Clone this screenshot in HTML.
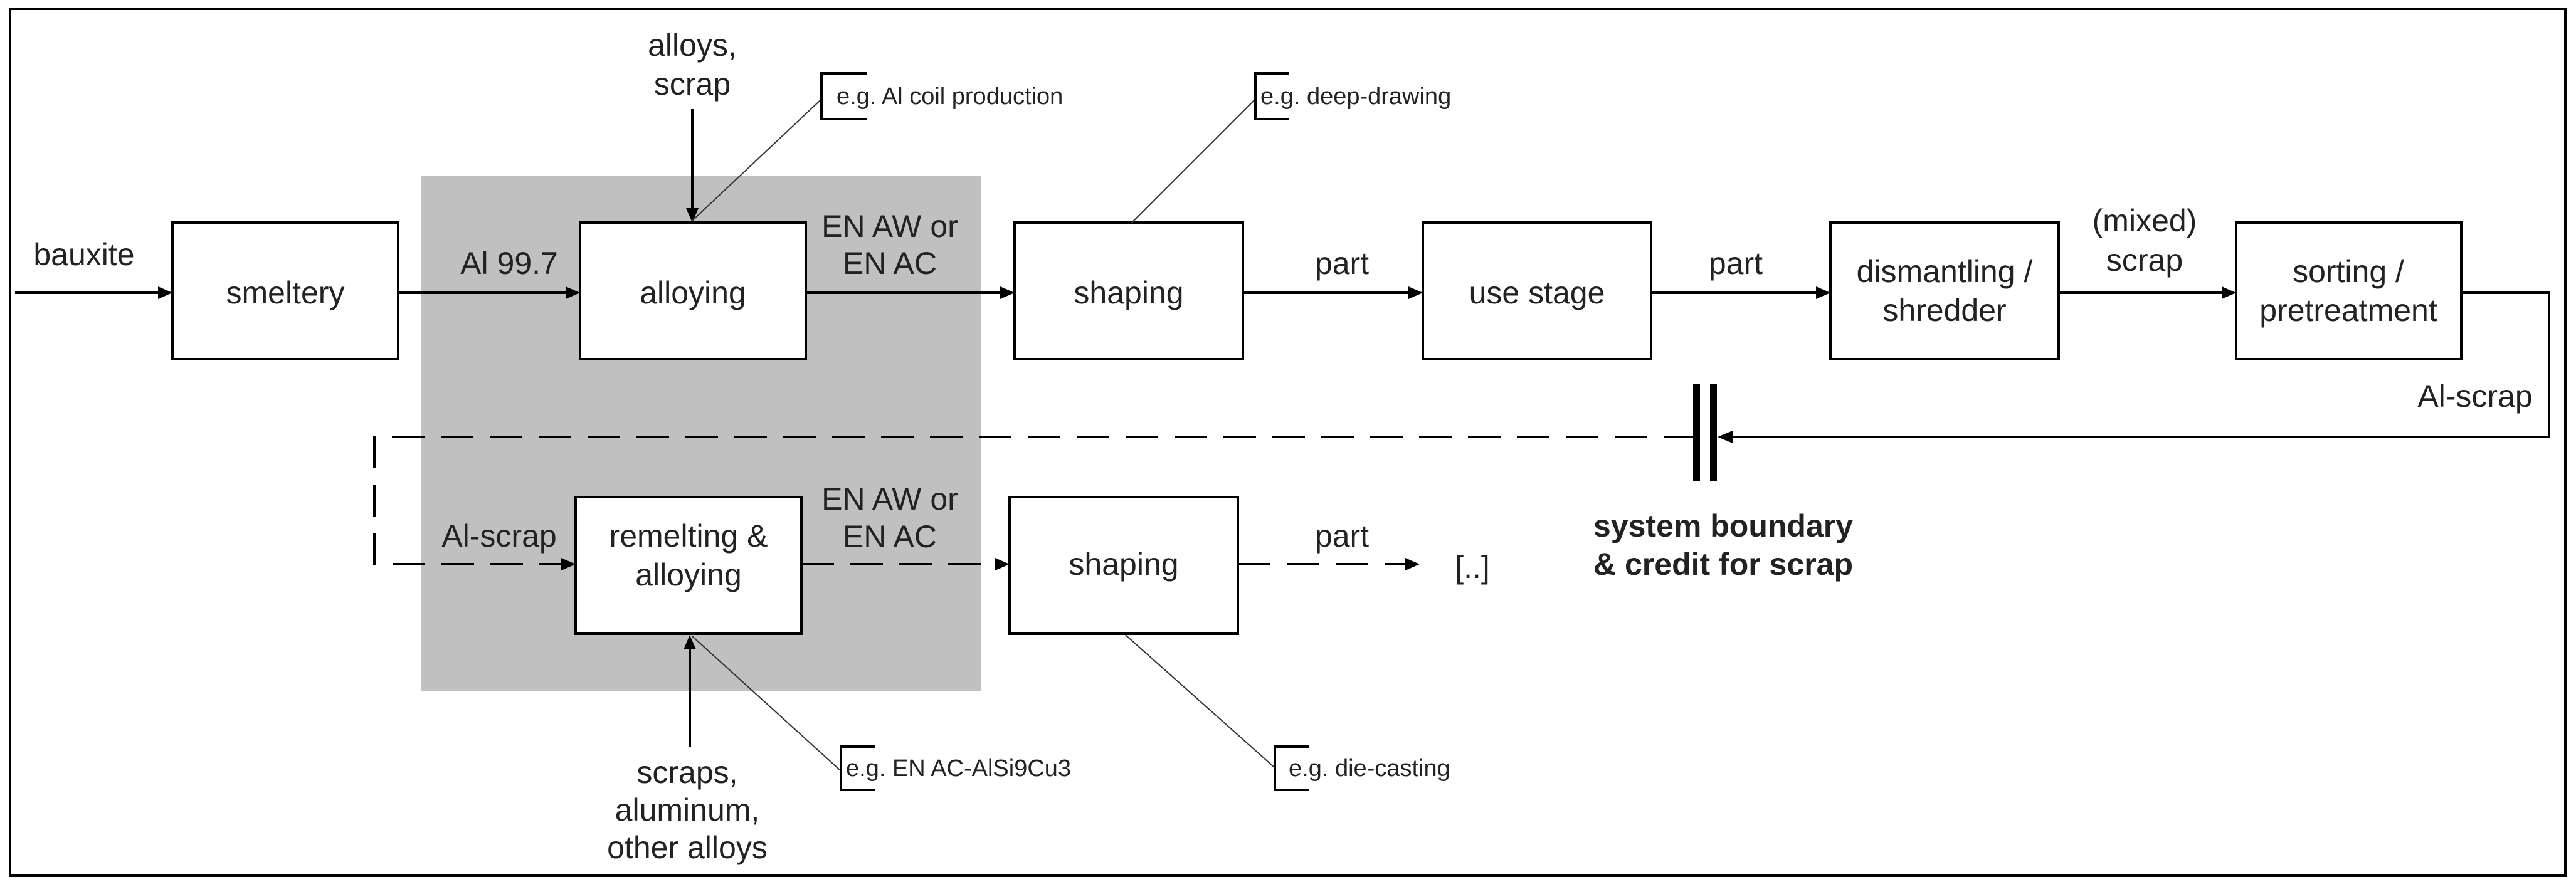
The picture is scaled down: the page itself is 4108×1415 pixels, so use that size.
<!DOCTYPE html>
<html><head><meta charset="utf-8"><style>
html,body{margin:0;padding:0;background:#fff}
svg{display:block}
text{font-family:"Liberation Sans",Arial,sans-serif;fill:#222}
</style></head><body>
<svg width="4108" height="1415" viewBox="0 0 4108 1415" xmlns="http://www.w3.org/2000/svg">
<defs>
<marker id="a" viewBox="0 0 10 10" refX="10" refY="5" markerWidth="6" markerHeight="5" markerUnits="userSpaceOnUse" orient="auto" style="overflow:visible">
</marker>
</defs>
<rect x="16" y="14" width="4075" height="1383" fill="none" stroke="#000" stroke-width="4"/>
<rect x="671" y="280" width="894" height="823" fill="#c0c0c0"/>
<g fill="#fff" stroke="#000" stroke-width="4">
<rect x="275" y="355" width="360" height="218"/>
<rect x="925" y="355" width="360" height="218"/>
<rect x="1618" y="355" width="364" height="218"/>
<rect x="2269" y="355" width="364" height="218"/>
<rect x="2919" y="355" width="364" height="218"/>
<rect x="3566" y="355" width="359" height="218"/>
<rect x="918" y="793" width="360" height="218"/>
<rect x="1610" y="793" width="364" height="218"/>
</g>
<g stroke="#000" stroke-width="4" fill="none">
<line x1="24" y1="467" x2="255" y2="467"/>
<line x1="635" y1="467" x2="905" y2="467"/>
<line x1="1285" y1="467" x2="1598" y2="467"/>
<line x1="1982" y1="467" x2="2249" y2="467"/>
<line x1="2633" y1="467" x2="2899" y2="467"/>
<line x1="3283" y1="467" x2="3546" y2="467"/>
<polyline points="3925,467 4065,467 4065,697 2760,697"/>
<line x1="1104" y1="174" x2="1104" y2="336"/>
<line x1="1100" y1="1191" x2="1100" y2="1032"/>
<path d="M2705,697 H597 V900 H898" stroke-dasharray="52 26"/>
<path d="M1278,900 H1590" stroke-dasharray="52 26"/>
<path d="M1974,900 H2244" stroke-dasharray="52 26"/>
</g>
<g fill="#000">
<polygon points="275,467 252,457 252,477"/>
<polygon points="925,467 902,457 902,477"/>
<polygon points="1618,467 1595,457 1595,477"/>
<polygon points="2269,467 2246,457 2246,477"/>
<polygon points="2919,467 2896,457 2896,477"/>
<polygon points="3566,467 3543,457 3543,477"/>
<polygon points="2739,697 2763,687 2763,707"/>
<polygon points="1104,355 1094,332 1114,332"/>
<polygon points="1100,1013 1090,1036 1110,1036"/>
<polygon points="918,900 895,890 895,910"/>
<polygon points="1610,900 1587,890 1587,910"/>
<polygon points="2264,900 2241,890 2241,910"/>
<rect x="2700" y="612" width="11" height="155"/>
<rect x="2727" y="612" width="11" height="155"/>
</g>
<g stroke="#333" stroke-width="2" fill="none">
<line x1="1104" y1="352" x2="1308" y2="160"/>
<line x1="1805" y1="355" x2="2000" y2="160"/>
<line x1="1104" y1="1015" x2="1339" y2="1228"/>
<line x1="1795" y1="1013" x2="2031" y2="1223"/>
</g>
<g stroke="#000" stroke-width="4" fill="none">
<polyline points="1383,117 1310,117 1310,190 1383,190"/>
<polyline points="2056,117 2002,117 2002,190 2056,190"/>
<polyline points="1395,1191 1341,1191 1341,1260 1395,1260"/>
<polyline points="2087,1191 2033,1191 2033,1260 2087,1260"/>
</g>
<g font-size="50" text-anchor="middle">
<text x="455" y="484">smeltery</text>
<text x="1105" y="484">alloying</text>
<text x="1800" y="484">shaping</text>
<text x="2451" y="484">use stage</text>
<text x="3101" y="450">dismantling /</text>
<text x="3101" y="512">shredder</text>
<text x="3745" y="450">sorting /</text>
<text x="3745" y="512">pretreatment</text>
<text x="1098" y="872">remelting &amp;</text>
<text x="1098" y="934">alloying</text>
<text x="1792" y="917">shaping</text>
<text x="134" y="423">bauxite</text>
<text x="812" y="437">Al 99.7</text>
<text x="1104" y="89">alloys,</text>
<text x="1104" y="151">scrap</text>
<text x="1419" y="378">EN AW or</text>
<text x="1419" y="437">EN AC</text>
<text x="2140" y="437">part</text>
<text x="2768" y="437">part</text>
<text x="3420" y="369">(mixed)</text>
<text x="3420" y="432">scrap</text>
<text x="3947" y="649">Al-scrap</text>
<text x="796" y="872">Al-scrap</text>
<text x="1419" y="813">EN AW or</text>
<text x="1419" y="873">EN AC</text>
<text x="2140" y="872">part</text>
<text x="2348" y="922">[..]</text>
<text x="1096" y="1249">scraps,</text>
<text x="1096" y="1309">aluminum,</text>
<text x="1096" y="1369">other alloys</text>
</g>
<g font-size="50" font-weight="bold">
<text x="2541" y="856">system boundary</text>
<text x="2541" y="917">&amp; credit for scrap</text>
</g>
<g font-size="38">
<text x="1334" y="166">e.g. Al coil production</text>
<text x="2010" y="166">e.g. deep-drawing</text>
<text x="1349" y="1238">e.g. EN AC-AlSi9Cu3</text>
<text x="2055" y="1238">e.g. die-casting</text>
</g>
</svg>
</body></html>
